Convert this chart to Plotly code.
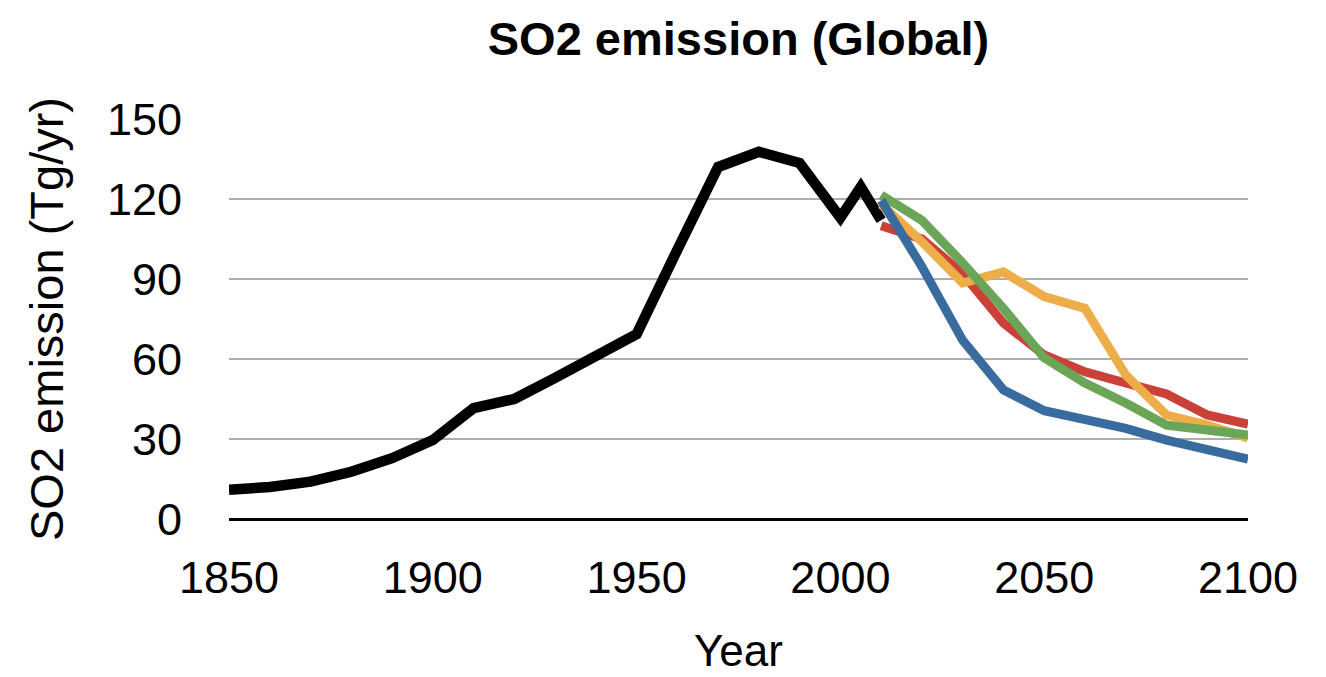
import plotly.graph_objects as go

# Historical global SO2 emissions (Tg/yr)
hist_years = [1850, 1860, 1870, 1880, 1890, 1900, 1910, 1920, 1930, 1940,
              1950, 1960, 1970, 1980, 1990, 2000, 2005, 2010]
hist_values = [11, 12, 14, 17.7, 22.8, 29.6, 41.6, 45, 52.9, 61,
               69.3, 101, 132, 137.7, 133.5, 113, 124.5, 112]

# Scenario projections
proj_years = [2010, 2020, 2030, 2040, 2050, 2060, 2070, 2080, 2090, 2100]
red_values = [110, 105, 92, 73.5, 61.5, 55.2, 51, 46.9, 39, 35.6]
orange_values = [118, 104, 88.5, 92.7, 83.4, 79, 54, 39, 35.2, 30.4]
green_values = [121.5, 112, 96, 79, 60.4, 51, 43.5, 35.2, 33.4, 31.5]
blue_values = [119.5, 94.6, 67, 48.4, 40.6, 37.1, 34, 29.6, 25.9, 22.5]

x_ticks = [1850, 1900, 1950, 2000, 2050, 2100]
y_ticks = [0, 30, 60, 90, 120, 150]

FONT = "Liberation Sans, Arial, Helvetica, sans-serif"

fig = go.Figure()

fig.add_trace(go.Scatter(x=hist_years, y=hist_values, mode="lines",
                         line=dict(color="#000000", width=10.5)))
for vals, color in [(red_values, "#CB4039"), (orange_values, "#EDAE49"),
                    (green_values, "#6BA557"), (blue_values, "#3A6B9F")]:
    fig.add_trace(go.Scatter(x=proj_years, y=vals, mode="lines",
                             line=dict(color=color, width=9)))

fig.update_layout(
    width=1326, height=677,
    margin=dict(l=229, r=78, t=119, b=158),
    paper_bgcolor="white", plot_bgcolor="white",
    showlegend=False,
    font=dict(family=FONT, size=45, color="black"),
    title=dict(text="<b>SO2 emission (Global)</b>", x=0.5, xref="paper",
               xanchor="center", y=0.943, yanchor="middle",
               font=dict(family=FONT, size=47, color="black")),
)

# x-axis title sitting at the bottom edge of the figure
fig.add_annotation(text="Year", xref="paper", yref="paper", x=0.5, y=0,
                   xanchor="center", yanchor="bottom", yshift=-157,
                   borderpad=0, showarrow=False,
                   font=dict(family=FONT, size=44))

fig.update_xaxes(
    range=[1850, 2100], tickvals=x_ticks, showgrid=False,
    showline=False, zeroline=False, ticks="", automargin=False,
    ticklabelstandoff=28,
)
fig.update_yaxes(
    range=[0, 150], tickvals=y_ticks, showgrid=True,
    gridcolor="#ADADAD", gridwidth=2, automargin=False,
    zeroline=True, zerolinecolor="black", zerolinewidth=3,
    showline=False, ticks="", ticklabelstandoff=46,
    tickfont=dict(size=45),
    title=dict(text="SO2 emission (Tg/yr)", standoff=28, font=dict(size=47)),
)

fig.write_html("out.html")
